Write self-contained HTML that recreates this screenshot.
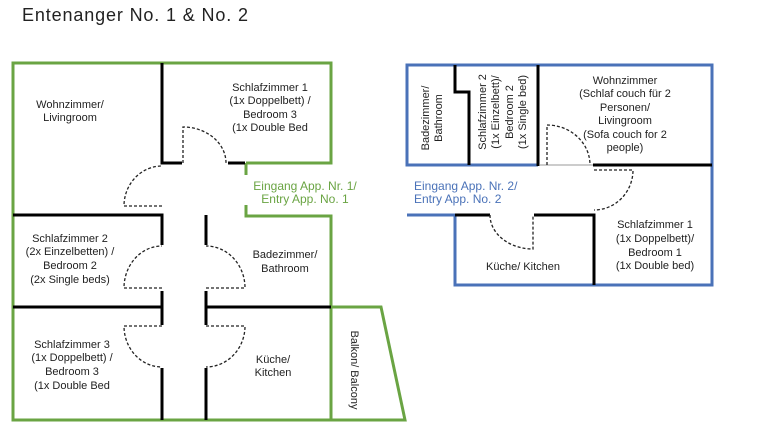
<!DOCTYPE html>
<html><head><meta charset="utf-8"><style>
html,body{margin:0;padding:0;background:#fff;}
svg{display:block;font-family:"Liberation Sans",sans-serif;}
</style></head><body>
<svg width="768" height="432" viewBox="0 0 768 432" xmlns="http://www.w3.org/2000/svg">
<text x="22" y="21" font-size="18" fill="#222" textLength="226">Entenanger No. 1 &amp; No. 2</text>

<!-- LEFT PLAN -->
<g fill="none" stroke="#6aa443" stroke-width="3">
<polyline points="246,163 331,163 331,63 13,63 13,420 331,420 331,216 246,216 246,205"/>
<line x1="246" y1="163" x2="246" y2="175"/>
<polygon points="331,307 381,307 405,420 331,420"/>
</g>
<g stroke="#000" stroke-width="3" fill="none">
<polyline points="162,63 162,163 182,163"/>
<line x1="228" y1="163" x2="245" y2="163"/>
<polyline points="13,215 162,215 162,245"/>
<line x1="206" y1="215" x2="206" y2="245"/>
<polyline points="13,307 162,307"/>
<line x1="162" y1="291" x2="162" y2="325"/>
<polyline points="206,291 206,325"/>
<line x1="206" y1="307" x2="331" y2="307"/>
<line x1="162" y1="368" x2="162" y2="420"/>
<line x1="206" y1="368" x2="206" y2="420"/>
</g>
<g stroke="#222" stroke-width="1.3" fill="none" stroke-dasharray="3,2">
<path d="M183,163 L183,127 A43,36 0 0 1 226,163"/>
<path d="M162,206 L124,206 A38,40 0 0 1 162,166"/>
<path d="M162,288 L124,288 A38,42 0 0 1 162,246"/>
<path d="M206,288 L245,288 A39,42 0 0 0 206,246"/>
<path d="M162,326 L124,326 A38,41 0 0 0 162,367"/>
<path d="M206,326 L245,326 A39,41 0 0 1 206,367"/>
</g>
<g font-size="11" fill="#222" text-anchor="middle">
<text x="70" y="108">Wohnzimmer/</text><text x="70" y="121">Livingroom</text>
<text x="270" y="91">Schlafzimmer 1</text><text x="270" y="104">(1x Doppelbett) /</text><text x="270" y="118">Bedroom 3</text><text x="270" y="131">(1x Double Bed</text>
<text x="70" y="242">Schlafzimmer 2</text><text x="70" y="255">(2x Einzelbetten) /</text><text x="70" y="269">Bedroom 2</text><text x="70" y="283">(2x Single beds)</text>
<text x="285" y="258">Badezimmer/</text><text x="285" y="272">Bathroom</text>
<text x="72" y="348">Schlafzimmer 3</text><text x="72" y="361">(1x Doppelbett) /</text><text x="72" y="375">Bedroom 3</text><text x="72" y="389">(1x Double Bed</text>
<text x="273" y="363">Küche/</text><text x="273" y="376">Kitchen</text>
<text transform="translate(351,370) rotate(90)">Balkon/ Balcony</text>
</g>
<g font-size="12" fill="#6aa443" text-anchor="middle">
<text x="305" y="190">Eingang App. Nr. 1/</text><text x="305" y="203">Entry App. No. 1</text>
</g>

<!-- RIGHT PLAN -->
<g fill="none" stroke="#4a72b8" stroke-width="3">
<polyline points="538,165 407,165 407,65 712,65 712,285 455,285 455,215 407,215"/>
</g>
<g stroke="#000" stroke-width="3" fill="none">
<polyline points="455,65 455,92 469,92 469,165"/>
<line x1="538" y1="65" x2="538" y2="166"/>
<line x1="593" y1="165" x2="712" y2="165"/>
<line x1="455" y1="215" x2="490" y2="215"/>
<polyline points="534,215 594,215 594,285"/>
</g>
<line x1="540" y1="165" x2="593" y2="165" stroke="#999" stroke-width="1"/>
<g stroke="#222" stroke-width="1.3" fill="none" stroke-dasharray="3,2">
<path d="M547,165 L547,125 A43,40 0 0 1 590,165"/>
<path d="M490,215 A43,34 0 0 0 533,249 L533,215"/>
<path d="M594,170 L633,170 A39,40 0 0 1 594,210"/>
</g>
<g font-size="11" fill="#222" text-anchor="middle">
<text transform="translate(432,118) rotate(-90)"><tspan x="0" y="-3">Badezimmer/</tspan><tspan x="0" y="10">Bathroom</tspan></text>
<text transform="translate(503,112) rotate(-90)"><tspan x="0" y="-17">Schlafzimmer 2</tspan><tspan x="0" y="-4">(1x Einzelbett)/</tspan><tspan x="0" y="10">Bedroom 2</tspan><tspan x="0" y="23">(1x Single bed)</tspan></text>
<text x="625" y="84">Wohnzimmer</text><text x="625" y="97">(Schlaf couch für 2</text><text x="625" y="111">Personen/</text><text x="625" y="124">Livingroom</text><text x="625" y="138">(Sofa couch for 2</text><text x="625" y="151">people)</text>
<text x="655" y="228">Schlafzimmer 1</text><text x="655" y="242">(1x Doppelbett)/</text><text x="655" y="256">Bedroom 1</text><text x="655" y="269">(1x Double bed)</text>
<text x="523" y="270">Küche/ Kitchen</text>
</g>
<g font-size="12" fill="#4a72b8">
<text x="414" y="190">Eingang App. Nr. 2/</text><text x="414" y="203">Entry App. No. 2</text>
</g>
</svg>
</body></html>
